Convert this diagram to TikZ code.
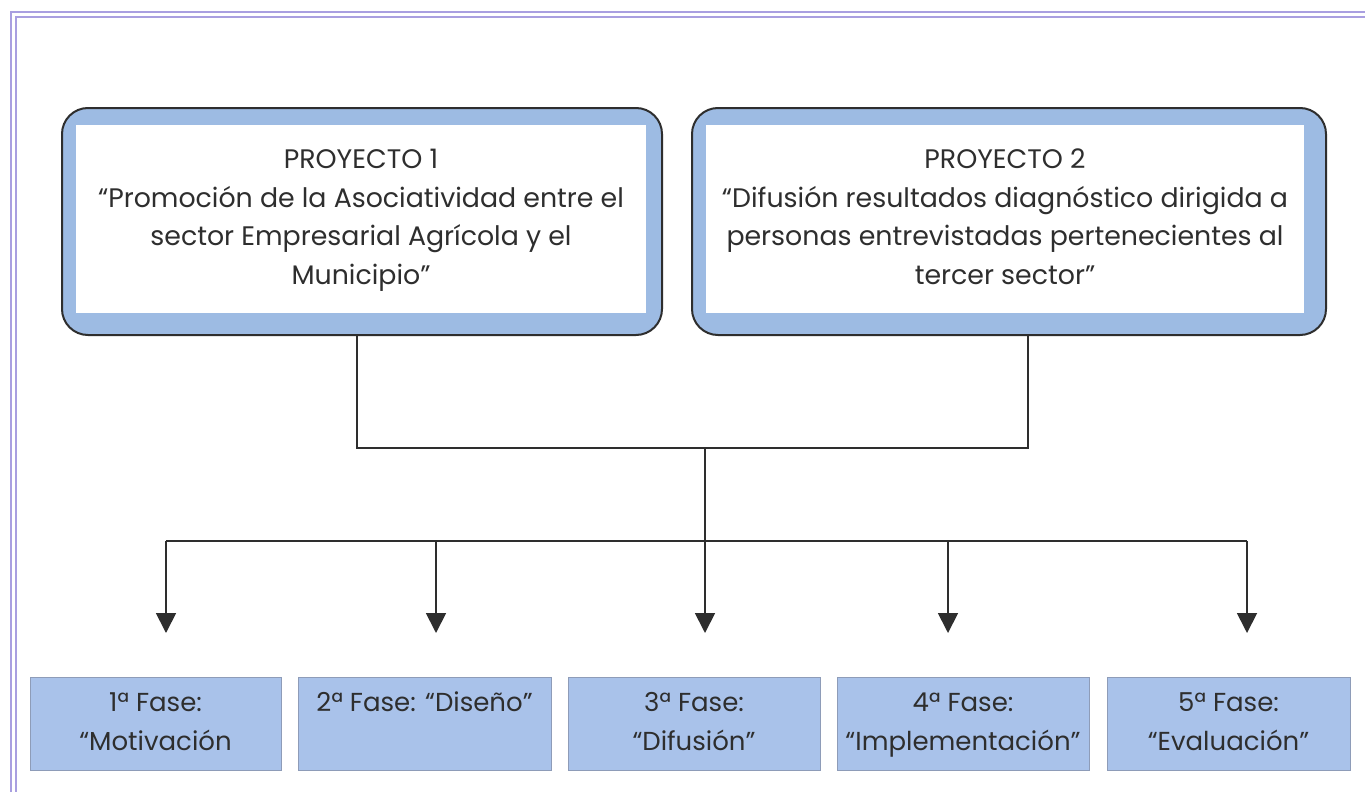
\documentclass[tikz,border=0pt]{standalone}
\usepackage{fontspec}
\setmainfont{Poppins}
\usetikzlibrary{arrows.meta,calc}
\definecolor{frame}{HTML}{A99FE0}
\definecolor{band}{HTML}{9DBBE3}
\definecolor{fase}{HTML}{A9C2EA}
\definecolor{faseline}{HTML}{8E9CB8}
\definecolor{ink}{HTML}{2E2E2E}
\tikzset{
  projbox/.style={draw=ink, line width=2pt, fill=band, rounded corners=26pt, minimum width=600pt, minimum height=227pt, inner sep=0pt},
  projin/.style={fill=white, minimum height=188pt, inner sep=0pt, align=center, font=\fontsize{26.8}{38.5}\selectfont, text=ink},
  fasebox/.style={draw=faseline, line width=1pt, fill=fase, minimum height=93pt, inner sep=0pt, align=center, font=\fontsize{26}{39}\selectfont, text=ink},
  conn/.style={draw=ink, line width=1.8pt},
  arr/.style={conn, -{Triangle[width=20pt,length=20pt]}},
}
\begin{document}
\begin{tikzpicture}[x=1pt,y=-1pt]
\useasboundingbox (0,0) rectangle (1365,792);
\fill[white] (0,0) rectangle (1365,792);
% outer double frame
\draw[frame, line width=1.6pt] (11,792) -- (11,12) -- (1365,12);
\draw[frame, line width=1.6pt] (16,792) -- (16,17) -- (1365,17);
% project boxes
\node[projbox, minimum width=600pt] (p1) at (362,221.5) {};
\node[projin, minimum width=570pt] (p1i) at (361,219) {\strut PROYECTO 1\\“Promoción de la Asociatividad entre el\\sector Empresarial Agrícola y el\\Municipio”\strut};
\node[projbox, minimum width=634pt] (p2) at (1009,221.5) {};
\node[projin, minimum width=598pt] (p2i) at (1005,219) {\strut PROYECTO 2\\“Difusión resultados diagnóstico dirigida a\\personas entrevistadas pertenecientes al\\tercer sector”\strut};
% phase boxes
\node[fasebox, minimum width=251pt] (f1) at (155.5,723.5) {\strut 1ª Fase:\\“Motivación\strut};
\node[fasebox, minimum width=253pt] (f2) at (424.5,723.5) {\strut 2ª Fase: “Diseño”\\\strut};
\node[fasebox, minimum width=252pt] (f3) at (694,723.5) {\strut 3ª Fase:\\“Difusión”\strut};
\node[fasebox, minimum width=252pt] (f4) at (963,723.5) {\strut 4ª Fase:\\“Implementación”\strut};
\node[fasebox, minimum width=243pt] (f5) at (1228.5,723.5) {\strut 5ª Fase:\\“Evaluación”\strut};
% connectors
\coordinate (j1) at (357,448);
\coordinate (j2) at (1028,448);
\coordinate (jm) at (705,448);
\coordinate (b1) at (166,541);
\coordinate (b2) at (436,541);
\coordinate (b4) at (948,541);
\coordinate (b5) at (1247,541);
\coordinate (t1) at (166,633);
\coordinate (t2) at (436,633);
\coordinate (t3) at (705,633);
\coordinate (t4) at (948,633);
\coordinate (t5) at (1247,633);
\draw[conn] (p1.south -| j1) -- (j1) -- (j2) -- (p2.south -| j2);
\draw[conn] (b1) -- (b5);
\draw[arr] (jm) -- (t3);
\draw[arr] (b1) -- (t1);
\draw[arr] (b2) -- (t2);
\draw[arr] (b4) -- (t4);
\draw[arr] (b5) -- (t5);
\end{tikzpicture}
\end{document}
